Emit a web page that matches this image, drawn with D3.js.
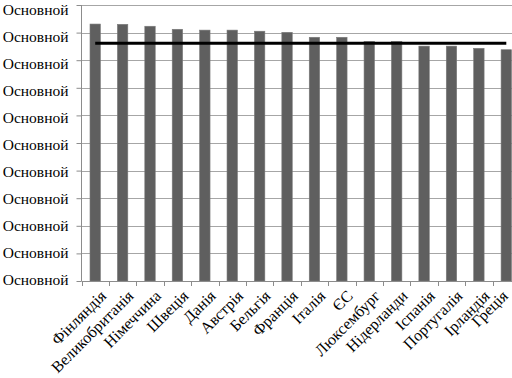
<!DOCTYPE html>
<html>
<head>
<meta charset="utf-8">
<script src="https://cdn.jsdelivr.net/npm/d3@7"></script>
<style>
  body { margin: 0; background: #fff; }
  svg text { font-family: "Liberation Serif", "Times New Roman", serif; fill: #000; }
</style>
</head>
<body>
<svg id="chart" width="512" height="378"></svg>
<script>
// categories and values
var countries = ["Фінляндія", "Великобританія", "Німеччина", "Швеція", "Данія", "Австрія",
  "Бельгія", "Франція", "Італія", "ЄС", "Люксембург", "Нідерланди", "Іспанія",
  "Португалія", "Ірландія", "Греція"];
var values = [93.1, 93.0, 92.3, 91.2, 90.9, 90.9, 90.5, 90.1, 88.3, 88.3, 86.8, 86.8,
  85.1, 85.1, 84.3, 83.8];
var average = 86.1;
var yTicks = [0, 10, 20, 30, 40, 50, 60, 70, 80, 90, 100];
var yTickLabel = "Основной";

var svg = d3.select("#chart");
var plotLeft = 81.5, plotRight = 520, plotTop = 5, plotBottom = 281;

var x = d3.scaleBand().domain(countries).range([plotLeft, plotRight]).paddingInner(0.62).paddingOuter(0.31);
var xb = d3.scaleBand().domain(countries).range([plotLeft, plotRight]);
var y = d3.scaleLinear().domain([0, 100]).range([plotBottom, plotTop]);
// labels sit a little tighter than the ticks in the original
var yLab = d3.scaleLinear().domain([0, 100]).range([280, 10]);

// gridlines
svg.append("g").selectAll("line")
  .data(yTicks.slice(1))
  .enter().append("line")
  .attr("x1", plotLeft).attr("x2", plotRight)
  .attr("y1", function(d) { return Math.round(y(d)) + 0.5; })
  .attr("y2", function(d) { return Math.round(y(d)) + 0.5; })
  .style("stroke", "#a6a6a6");

// bars
svg.append("g").selectAll("rect")
  .data(values)
  .enter().append("rect")
  .attr("x", function(d, i) { return x(countries[i]); })
  .attr("width", x.bandwidth())
  .attr("y", function(d) { return y(d); })
  .attr("height", function(d) { return plotBottom - y(d); })
  .style("fill", "#5f5f5f")
  .style("stroke", "#7a7a7a")
  .style("stroke-width", 0.6);

// average line, centre of first band to centre of last
svg.append("line")
  .attr("x1", xb(countries[0]) + xb.bandwidth() / 2)
  .attr("x2", xb(countries[countries.length - 1]) + xb.bandwidth() / 2)
  .attr("y1", y(average)).attr("y2", y(average))
  .style("stroke", "#000").style("stroke-width", 3);

// y axis
var yAxis = svg.append("g").attr("transform", "translate(" + plotLeft + ",0)")
  .call(d3.axisLeft(y).tickValues(yTicks).tickSize(5).tickPadding(8)
    .tickFormat(function() { return yTickLabel; }));
yAxis.selectAll("path, line").style("stroke", "#8c8c8c");
yAxis.select(".domain").attr("d", "M0," + plotTop + "V" + plotBottom);
yAxis.selectAll("text")
  .attr("y", function(d) { return yLab(d) - y(d); })
  .style("font-size", "15.5px").style("font-family", "Liberation Serif");

// x axis with tick marks at band edges
var xAxis = svg.append("g").attr("transform", "translate(0," + plotBottom + ")");
xAxis.append("line").attr("x1", plotLeft).attr("x2", plotRight).attr("y1", 0.5).attr("y2", 0.5)
  .style("stroke", "#8c8c8c");
xAxis.selectAll("line.t")
  .data(countries.concat(["end"]))
  .enter().append("line").attr("class", "t")
  .attr("x1", function(d, i) { return Math.round(plotLeft + i * xb.bandwidth()) + 0.5; })
  .attr("x2", function(d, i) { return Math.round(plotLeft + i * xb.bandwidth()) + 0.5; })
  .attr("y1", 0).attr("y2", 5)
  .style("stroke", "#8c8c8c");
xAxis.selectAll("text")
  .data(countries)
  .enter().append("text")
  .attr("transform", function(d) {
    var cx = Math.min(xb(d) + xb.bandwidth() / 2 + 4, 501);
    return "translate(" + cx + ",8) rotate(-45)";
  })
  .attr("text-anchor", "end")
  .attr("dy", "0.7em")
  .style("font-size", "16px")
  .text(function(d) { return d; });
</script>
</body>
</html>
